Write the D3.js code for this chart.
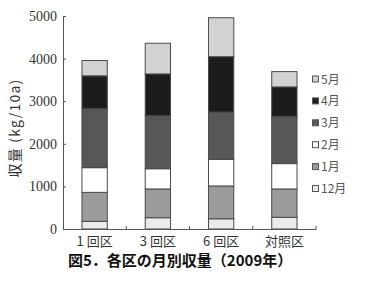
<!DOCTYPE html>
<html><head><meta charset="utf-8">
<script src="https://cdn.jsdelivr.net/npm/d3@7"></script>
<style>body{margin:0;background:#fff}</style>
</head><body>
<svg id="c" width="365" height="282"></svg>
<script>
const categories = ["1 回区", "3 回区", "6 回区", "対照区"];
const months = ["12月", "1月", "2月", "3月", "4月", "5月"];
const m12 = [180, 265, 240, 275];
const m1 = [680, 675, 770, 665];
const m2 = [580, 475, 625, 595];
const m3 = [1385, 1245, 1110, 1110];
const m4 = [770, 980, 1300, 690];
const m5 = [360, 720, 915, 360];
const yTicks = [0, 1000, 2000, 3000, 4000, 5000];
const colors = ["#ebebeb", "#9b9b9b", "#ffffff", "#575757", "#1c1c1c", "#d2d2d2"];

const series = [m12, m1, m2, m3, m4, m5];
const svg = d3.select("#c");
const x = d3.scaleBand().domain(categories).range([63, 316]).padding(0);
const y = d3.scaleLinear().domain([0, 5000]).range([229, 16]);
const bw = x.bandwidth() * 0.4;
const serif = "'Liberation Serif','DejaVu Serif',serif";
const axisColor = "#555";

// bars
categories.forEach((c, i) => {
  let acc = 0;
  series.forEach((s, k) => {
    const v0 = acc, v1 = acc + s[i];
    acc = v1;
    svg.append("rect")
      .attr("x", x(c) + (x.bandwidth() - bw) / 2)
      .attr("y", y(v1))
      .attr("width", bw)
      .attr("height", y(v0) - y(v1))
      .attr("fill", colors[k])
      .attr("stroke", "#4a4a4a")
      .attr("stroke-width", 1);
  });
});

// y axis
const ya = svg.append("g").attr("transform", "translate(63,0)")
  .call(d3.axisLeft(y).tickValues(yTicks).tickSize(-3).tickPadding(6).tickFormat(d3.format("d")));
ya.select(".domain").attr("stroke", axisColor);
ya.selectAll(".tick line").attr("stroke", axisColor);
ya.selectAll(".tick text").attr("font-family", serif).attr("font-size", 14).attr("fill", "#333");

// x axis
const xa = svg.append("g").attr("transform", "translate(0,229)")
  .call(d3.axisBottom(x).tickSize(0).tickPadding(9));
xa.select(".domain").attr("stroke", axisColor);
xa.selectAll(".tick text")
  .attr("y", 17).attr("dy", null)
  .attr("font-family", "'Noto Sans CJK JP'," + serif).attr("font-size", 13).attr("fill", "#333");
// boundary ticks between categories
const bounds = categories.slice(1).map(c => x(c)).concat([x.range()[1]]);
svg.selectAll(".bt").data(bounds).enter().append("line")
  .attr("x1", d => d).attr("x2", d => d).attr("y1", 229).attr("y2", 226)
  .attr("stroke", axisColor);

// y title
svg.append("text")
  .attr("transform", "translate(20,128) rotate(-90)")
  .attr("text-anchor", "middle")
  .attr("font-family", "'Noto Sans CJK JP'," + serif)
  .attr("font-size", 14)
  .attr("letter-spacing", 1.2)
  .attr("fill", "#333")
  .text("収量 (kg/10a)");

// legend
const legendOrder = [5, 4, 3, 2, 1, 0];
legendOrder.forEach((k, j) => {
  const ly = 79 + j * 21.9;
  svg.append("rect").attr("x", 312.5).attr("y", ly - 3).attr("width", 6).attr("height", 6)
    .attr("fill", colors[k]).attr("stroke", "#555");
  svg.append("text").attr("x", 321).attr("y", ly + 4.5)
    .attr("font-family", "'Noto Sans CJK JP'," + serif).attr("font-size", 12).attr("fill", "#555")
    .text(months[k]);
});

// caption
svg.append("text").attr("x", 68).attr("y", 266)
  .attr("font-family", "'Noto Sans CJK JP', sans-serif")
  .attr("font-weight", "bold").attr("font-size", 15).attr("fill", "#111")
  .text("図5．各区の月別収量（2009年）");
</script>
</body></html>
